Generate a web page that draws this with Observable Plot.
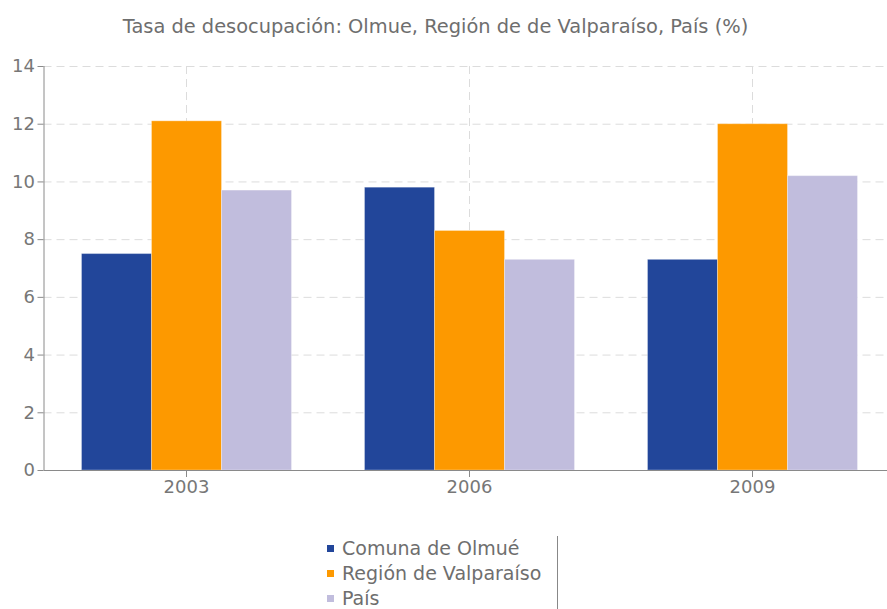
<!DOCTYPE html>
<html>
<head>
<meta charset="utf-8">
<script src="https://cdn.jsdelivr.net/npm/d3@7"></script>
<script src="https://cdn.jsdelivr.net/npm/@observablehq/plot@0.6"></script>
<style>
  html, body { margin: 0; padding: 0; background: #fff; overflow: hidden; width: 887px; height: 609px; }
  #title { position: absolute; left: 0; width: 871px; top: 15px; text-align: center;
           font-family: "DejaVu Sans", sans-serif; font-size: 19.4px; color: #6e6e6e; }
  .layer { position: absolute; left: 0; top: 0; }
  .layer svg { max-width: none !important; }
  #legend { position: absolute; left: 320px; top: 536px; width: 237px; height: 80px;
            border-right: 1px solid #888; font-family: "DejaVu Sans", sans-serif; font-size: 19px; color: #6e6e6e; }
  .item { height: 25px; line-height: 25px; white-space: nowrap; }
  .sw { display: inline-block; width: 7px; height: 7px; margin: 0 8px 0 7px; vertical-align: middle; position: relative; top: -1px; }
</style>
</head>
<body>
<div id="title">Tasa de desocupación: Olmue, Región de de Valparaíso, País (%)</div>
<div id="bg" class="layer"></div>
<div id="fg" class="layer"></div>
<div id="ax" class="layer"></div>
<div id="yl" class="layer"></div>
<div id="legend"></div>
<script>
const years = ["2003", "2006", "2009"];
const series = ["Comuna de Olmué", "Región de Valparaíso", "País"];
const olmue = [7.5, 9.8, 7.3];
const region = [12.1, 8.3, 12.0];
const pais = [9.7, 7.3, 10.2];
const yTicks = [0, 2, 4, 6, 8, 10, 12, 14];
const colors = ["#22469a", "#fd9900", "#c1bddd"];

const valuesBySeries = [olmue, region, pais];
const data = years.flatMap((yr, i) => series.map((s, j) => ({year: yr, series: s, value: valuesBySeries[j][i]})));

const dims = {width: 895, height: 510, marginTop: 66, marginBottom: 40, marginLeft: 43.5, marginRight: 0};
const font = {fontFamily: "DejaVu Sans, sans-serif", fontSize: "18px", color: "#777", background: "transparent"};
const axisStroke = "#8a8a8a";
const gridStyle = {stroke: "#dcdcdc", strokeOpacity: 1, strokeDasharray: "8,5"};
const xBand = {type: "band", domain: years, paddingInner: 0.25, paddingOuter: 0.125, axis: null};
const yScale = {domain: [0, 14], axis: null};

// Background layer: grid (continuous across groups)
const bg = Plot.plot({
  ...dims,
  style: font,
  x: xBand,
  y: yScale,
  marks: [
    Plot.gridY(yTicks.filter(d => d > 0), gridStyle),
    Plot.gridX(years, gridStyle)
  ]
});
document.getElementById("bg").appendChild(bg);

// Foreground layer: grouped bars (faceted by year)
const fg = Plot.plot({
  ...dims,
  style: font,
  fx: {domain: years, paddingInner: 0.25, paddingOuter: 0.125, axis: null, label: null},
  x: {domain: series, padding: 0, axis: null},
  y: yScale,
  color: {domain: series, range: colors},
  marks: [
    Plot.barY(data, {fx: "year", x: "series", y: "value", fill: "series", stroke: "#fff", strokeOpacity: 0.3, strokeWidth: 1})
  ]
});
document.getElementById("fg").appendChild(fg);

// Axes layer on top
const ax = Plot.plot({
  ...dims,
  style: font,
  x: xBand,
  y: yScale,
  marks: [
    Plot.ruleY([0], {stroke: axisStroke}),
    Plot.axisY({ticks: yTicks, tickSize: 6, tickPadding: 3, stroke: axisStroke, fill: "#777", label: null, fontSize: 18}),
    Plot.axisX({anchor: "bottom", tickSize: 7, tickPadding: 3, stroke: axisStroke, fill: "#777", label: null, fontSize: 18})
  ]
});
document.getElementById("ax").appendChild(ax);

// Y axis line
const yl = Plot.plot({
  ...dims,
  style: font,
  x: {domain: [0, 1], axis: null},
  y: yScale,
  marks: [
    Plot.ruleX([0], {y1: 0, y2: 14, stroke: axisStroke})
  ]
});
document.getElementById("yl").appendChild(yl);

const legend = document.getElementById("legend");
series.forEach((s, i) => {
  const row = document.createElement("div");
  row.className = "item";
  const sw = document.createElement("span");
  sw.className = "sw";
  sw.style.background = colors[i];
  row.appendChild(sw);
  row.appendChild(document.createTextNode(s));
  legend.appendChild(row);
});
</script>
</body>
</html>
